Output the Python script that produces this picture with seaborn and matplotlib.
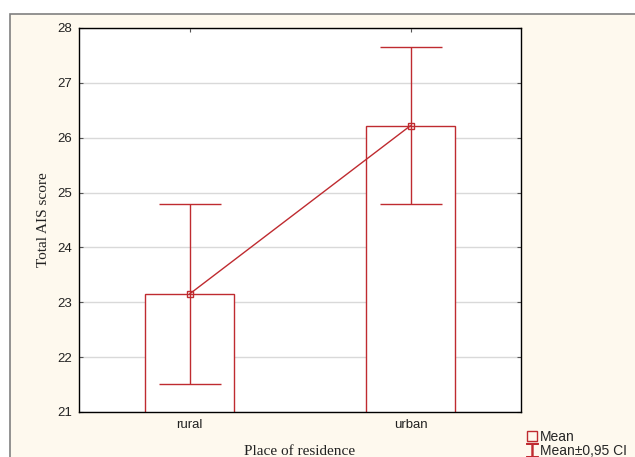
import matplotlib
matplotlib.use("Agg")
import matplotlib.pyplot as plt
import seaborn as sns
import pandas as pd
from matplotlib.patches import Rectangle
from matplotlib.lines import Line2D

categories = ["rural", "urban"]
means = [23.15, 26.22]
ci_low = [21.51, 24.79]
ci_high = [24.79, 27.66]
y_ticks = [21, 22, 23, 24, 25, 26, 27, 28]

red = "#BF2B30"
cream = "#FEF9EE"

sns.set_theme(style="white")
plt.rcParams['font.family'] = ['Liberation Sans', 'DejaVu Sans']

df = pd.DataFrame({"cat": categories, "mean": means, "lo": ci_low, "hi": ci_high})

fig = plt.figure(figsize=(6.35, 4.57), dpi=100)
fig.patch.set_facecolor("white")

# background axes carrying the outer cream panel
bg = fig.add_axes([0, 0, 1, 1], zorder=0)
bg.set_xlim(0, 635)
bg.set_ylim(457, 0)
bg.axis("off")
bg.add_patch(Rectangle((10, 14), 640, 460, facecolor=cream, edgecolor="#808080",
                       linewidth=1.2))

ax = fig.add_axes([79 / 635, 1 - 412 / 457, (521 - 79) / 635, (412 - 28) / 457], zorder=1)
ax.set_facecolor("white")

sns.barplot(data=df, x="cat", y="mean", ax=ax, width=0.4, color="white",
            edgecolor=red, linewidth=1.0, errorbar=None, zorder=2)
x = list(range(len(categories)))
yerr = [[m - l for m, l in zip(means, ci_low)], [h - m for m, h in zip(means, ci_high)]]
ax.errorbar(x, means, yerr=yerr, fmt="none", ecolor=red, elinewidth=1.0,
            capsize=22, capthick=1.0, zorder=3)
sns.lineplot(data=df, x="cat", y="mean", ax=ax, color=red, linewidth=1.0,
             marker="s", markersize=5, markerfacecolor="none", markeredgecolor=red,
             markeredgewidth=1.0, zorder=4)

ax.set_ylim(21, 28)
ax.set_xlim(-0.5, 1.5)
ax.set_yticks(y_ticks)
ax.set_yticklabels([str(t) for t in y_ticks])
ax.yaxis.grid(True, color="#D9D9D9", linewidth=1.0, zorder=0)
ax.set_axisbelow(True)
ax.tick_params(axis="both", direction="in", length=3, width=0.8, color="#555555",
               labelsize=9.5, labelcolor="#222222", top=True, right=True,
               bottom=True, left=True, pad=5)
for s in ax.spines.values():
    s.set_color("black")
    s.set_linewidth(1.0)

ax.set_xlabel("Place of residence", family=["Liberation Serif"], fontsize=11,
              color="#222222", labelpad=10)
ax.set_ylabel("Total AIS score", family=["Liberation Serif"], fontsize=11,
              color="#222222", labelpad=5)

handles = [
    Line2D([], [], color=red, marker="s", markersize=7, markerfacecolor="none",
           linestyle="none", markeredgewidth=1.0),
    Line2D([], [], color=red, marker="$\u2336$", markersize=10, linestyle="none"),
]
fig.legend(handles, ["Mean", "Mean\u00b10,95 CI"], loc="lower left",
           bbox_to_anchor=(518 / 635, -0.024), frameon=False, fontsize=10,
           handlelength=0.6, handletextpad=0.3, labelspacing=0.0,
           borderpad=0.2)

fig.savefig("out.png", dpi=100, facecolor=fig.get_facecolor())
